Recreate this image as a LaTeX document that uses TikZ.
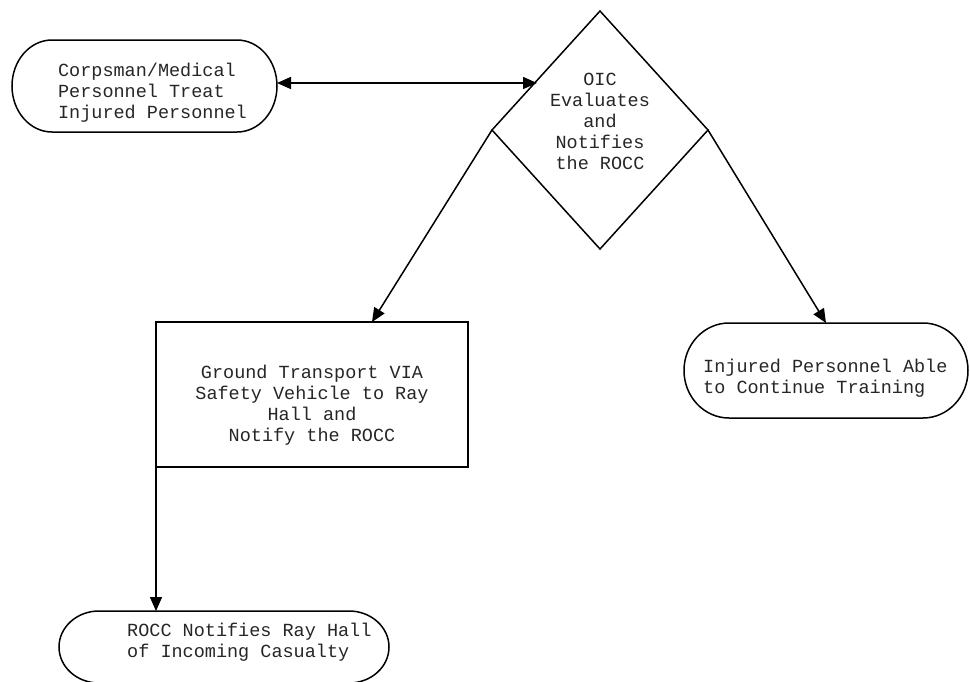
\documentclass[tikz,border=0pt]{standalone}
\usepackage{fontspec}
\setmonofont{Liberation Mono}
\usetikzlibrary{shapes.geometric,arrows.meta,calc}
\tikzset{
  shp/.style={draw=none,inner sep=0pt,outer sep=0pt},
  boxshape/.style={draw,line width=1.5pt,inner sep=0pt,outer sep=0pt},
  diashape/.style={diamond,draw,line width=1.5pt,inner sep=0pt,outer sep=0pt},
  txt/.style={font=\ttfamily\fontsize{18.5}{21}\selectfont,inner sep=0pt,text=black!85},
  conn/.style={line width=1.5pt,-{Triangle[length=14pt,width=12pt]}},
  dconn/.style={line width=1.5pt,{Triangle[length=14pt,width=12pt]}-{Triangle[length=14pt,width=12pt]}},
  outline/.style={line width=1.5pt}
}
\newcommand\termshape[3]{%
  \draw[outline] ($(#1.north east)+(-#2,0)$) arc[start angle=90,end angle=-90,x radius=#2pt,y radius=#3pt]
    -- ($(#1.south west)+(#2,0)$) arc[start angle=270,end angle=90,x radius=#2pt,y radius=#3pt] -- cycle;}
\begin{document}
\begin{tikzpicture}[x=1pt,y=-1pt]
\useasboundingbox (0,0) rectangle (970,681);
% terminators
\node[shp,minimum width=265pt,minimum height=92pt] (n1) at (144.5,86) {};
\termshape{n1}{40}{46}
\node[txt,align=left] (t1) at (152.5,93) {Corpsman/Medical\\Personnel Treat\\Injured Personnel};

\node[diashape,minimum width=216pt,minimum height=238pt] (d) at (600,130) {};
\node[txt,align=center] (td) at (600,121.5) {OIC\\Evaluates\\and\\Notifies\\the ROCC};

\node[boxshape,minimum width=312pt,minimum height=145pt] (box) at (312,394.5) {};
\node[txt,align=center] (tb) at (312,405) {Ground Transport VIA\\Safety Vehicle to Ray\\Hall and\\Notify the ROCC};

\node[shp,minimum width=284pt,minimum height=95pt] (n4) at (826,370.5) {};
\termshape{n4}{45}{47.5}
\node[txt,align=left,anchor=west] (t4) at (703,378) {Injured Personnel Able\\to Continue Training};

\node[shp,minimum width=330pt,minimum height=72pt] (n5) at (224,647) {};
\termshape{n5}{40}{36}
\node[txt,align=left,anchor=west] (t5) at (127,642) {ROCC Notifies Ray Hall\\of Incoming Casualty};

% connectors
\coordinate (a1) at ($(n1.east)+(0,-3)$);
\coordinate (a2) at (537,83);
\draw[dconn] (a1) -- (a2);
\coordinate (boxin) at (372,322);
\draw[conn] (d.west) -- (boxin);
\draw[conn] (d.east) -- (n4.north);
\draw[conn] (box.south west) -- (box.south west |- n5.north);
\end{tikzpicture}
\end{document}
